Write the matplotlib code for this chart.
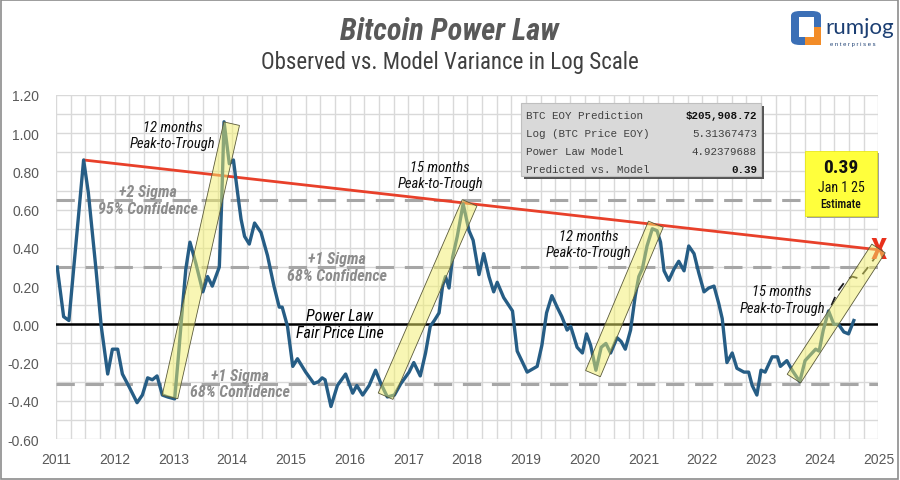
import matplotlib
matplotlib.use("Agg")
import matplotlib.pyplot as plt
from matplotlib.patches import Polygon, Rectangle, FancyBboxPatch
from matplotlib.ticker import MultipleLocator, FormatStrFormatter
import numpy as np

# observed vs. model variance (log scale)
obs_year = [2011.02, 2011.13, 2011.22, 2011.47, 2011.55, 2011.68, 2011.77, 2011.88, 2011.96,
            2012.05, 2012.13, 2012.25, 2012.38, 2012.47, 2012.56, 2012.64, 2012.72, 2012.81, 2012.90,
            2013.02, 2013.08, 2013.15, 2013.21, 2013.28, 2013.38, 2013.50, 2013.58, 2013.66, 2013.78,
            2013.82, 2013.86, 2013.95, 2014.02, 2014.09, 2014.15, 2014.21, 2014.29, 2014.38, 2014.49,
            2014.60, 2014.71, 2014.80, 2014.85, 2014.94, 2015.03, 2015.11, 2015.25, 2015.39, 2015.47,
            2015.53, 2015.58, 2015.68, 2015.79, 2015.93, 2016.05, 2016.12, 2016.22, 2016.33, 2016.44,
            2016.53, 2016.64, 2016.76, 2016.87, 2017.01, 2017.09, 2017.20, 2017.29, 2017.37, 2017.44,
            2017.52, 2017.58, 2017.63, 2017.69, 2017.75, 2017.83, 2017.93, 2018.03, 2018.10, 2018.20,
            2018.28, 2018.37, 2018.45, 2018.51, 2018.62, 2018.77, 2018.85, 2019.02, 2019.19, 2019.27,
            2019.35, 2019.44, 2019.53, 2019.61, 2019.70, 2019.76, 2019.87, 2019.96, 2020.03, 2020.10,
            2020.19, 2020.28, 2020.36, 2020.44, 2020.55, 2020.62, 2020.69, 2020.78, 2020.86, 2020.92,
            2020.98, 2021.06, 2021.15, 2021.23, 2021.29, 2021.35, 2021.43, 2021.52, 2021.60, 2021.69,
            2021.77, 2021.86, 2021.94, 2022.03, 2022.11, 2022.20, 2022.28, 2022.34, 2022.42, 2022.51,
            2022.59, 2022.71, 2022.79, 2022.85, 2022.93, 2023.00, 2023.07, 2023.19, 2023.28, 2023.33,
            2023.44, 2023.53, 2023.66, 2023.75, 2023.84, 2023.93, 2023.99, 2024.06, 2024.15, 2024.24,
            2024.32, 2024.41, 2024.49, 2024.58]
obs_val = [0.30, 0.04, 0.02, 0.86, 0.69, 0.29, -0.01, -0.26, -0.13,
           -0.13, -0.26, -0.33, -0.41, -0.37, -0.28, -0.29, -0.27, -0.37, -0.38,
           -0.39, -0.18, 0.08, 0.29, 0.43, 0.32, 0.17, 0.25, 0.20, 0.30,
           0.64, 1.06, 0.84, 0.86, 0.69, 0.55, 0.46, 0.42, 0.53, 0.48,
           0.36, 0.20, 0.09, 0.09, -0.01, -0.22, -0.18, -0.25, -0.31, -0.30,
           -0.28, -0.29, -0.43, -0.32, -0.26, -0.36, -0.32, -0.37, -0.32, -0.24,
           -0.31, -0.38, -0.37, -0.31, -0.25, -0.20, -0.27, -0.15, -0.01, 0.02,
           0.06, 0.20, 0.25, 0.19, 0.35, 0.46, 0.63, 0.49, 0.44, 0.26,
           0.37, 0.25, 0.17, 0.22, 0.14, 0.07, -0.14, -0.25, -0.22, -0.11,
           0.06, 0.15, 0.09, 0.04, -0.03, -0.01, -0.12, -0.15, -0.05, -0.11,
           -0.24, -0.12, -0.10, -0.15, -0.07, -0.09, -0.13, -0.03, 0.15, 0.25,
           0.29, 0.41, 0.50, 0.49, 0.43, 0.28, 0.23, 0.29, 0.33, 0.28,
           0.41, 0.37, 0.27, 0.17, 0.19, 0.20, 0.11, 0.03, -0.20, -0.15,
           -0.23, -0.25, -0.25, -0.32, -0.37, -0.24, -0.25, -0.17, -0.17, -0.22,
           -0.19, -0.24, -0.30, -0.19, -0.16, -0.13, -0.14, -0.03, 0.07, 0.00,
           0.00, -0.04, -0.05, 0.02]

# projected path to the year-end estimate
proj_year = [2024.20, 2024.30, 2024.42, 2024.55, 2024.67, 2024.80, 2024.92, 2025.00]
proj_val = [0.10, 0.17, 0.22, 0.25, 0.24, 0.29, 0.34, 0.39]

# falling peak line, 2011 top to the Jan 1 25 estimate
peak_year = [2011.47, 2025.00]
peak_val = [0.86, 0.39]

sigma_val = [0.65, 0.30, -0.31]
sigma_top = ['+2 Sigma', '+1 Sigma', '+1 Sigma']
sigma_bot = ['95% Confidence', '68% Confidence', '68% Confidence']
sigma_lbl_x = [2012.57, 2015.78, 2014.13]

# peak-to-trough bands (trough end -> peak end)
band_x0 = [2012.94, 2016.61, 2020.14, 2023.56]
band_y0 = [-0.38, -0.376, -0.258, -0.284]
band_x1 = [2013.99, 2018.04, 2021.21, 2025.00]
band_y1 = [1.05, 0.636, 0.524, 0.397]
band_months = ['12 months', '15 months', '12 months', '15 months']
band_lbl_x = [2012.99, 2017.54, 2020.07, 2023.36]
band_lbl_y = [0.99, 0.78, 0.42, 0.13]

tbl_names = ['BTC EOY Prediction', 'Log (BTC Price EOY)', 'Power Law Model', 'Predicted vs. Model']
tbl_values = ['$205,908.72', '5.31367473', '4.92379688', '0.39']
tbl_bold = [True, False, False, True]

W, H = 900, 481
narrow = ['Roboto Condensed', 'Liberation Sans Narrow', 'Roboto', 'DejaVu Sans']
plt.rcParams['font.family'] = ['Liberation Sans', 'DejaVu Sans']

fig = plt.figure(figsize=(9, 4.81), dpi=100)
ax = fig.add_axes([56 / W, 1 - 440 / H, (878.5 - 56) / W, (440 - 96) / H])


def fx(px):
    return px / W


def fy(py):
    return 1 - py / H


ax.set_xlim(2011, 2025)
ax.set_ylim(-0.6, 1.2)
ax.xaxis.set_major_locator(MultipleLocator(1))
ax.xaxis.set_minor_locator(MultipleLocator(0.25))
ax.yaxis.set_major_locator(MultipleLocator(0.2))
ax.yaxis.set_minor_locator(MultipleLocator(0.1))
ax.yaxis.set_major_formatter(FormatStrFormatter('%.2f'))
ax.grid(True, which='both', color='#d9d9d9', lw=1.0, zorder=0)
ax.set_axisbelow(True)
for s in ax.spines.values():
    s.set_visible(False)
ax.tick_params(which='both', length=0, labelsize=10, labelcolor='#595959')
ax.tick_params(axis='x', pad=9)
ax.tick_params(axis='y', pad=12)

for v in sigma_val:
    ax.axhline(v, color='#a6a6a6', lw=2.2, dashes=(6, 3.5), zorder=2)
ax.axhline(0, color='black', lw=1.8, zorder=2)

ax.plot(peak_year, peak_val, color='#e8402a', lw=2.0, zorder=3, solid_capstyle='butt')
ax.plot(obs_year, obs_val, color='#265d85', lw=2.4, zorder=4)
ax.plot(proj_year, proj_val, color='#1a1a1a', lw=1.3, dashes=(5, 4), zorder=4)
ax.text(peak_year[-1], peak_val[-1], 'X', family=narrow, color='#e8301c', fontsize=21,
        fontweight='bold', ha='center', va='center', zorder=4, clip_on=False)

# yellow bands, rotated rectangles around trough->peak
to_px = ax.transData
to_data = ax.transData.inverted()
for x0, y0, x1, y1 in zip(band_x0, band_y0, band_x1, band_y1):
    p0 = to_px.transform((x0, y0))
    p1 = to_px.transform((x1, y1))
    d = (p1 - p0) / np.hypot(*(p1 - p0))
    n = np.array([-d[1], d[0]]) * 8.0
    corners = to_data.transform([p0 + n, p1 + n, p1 - n, p0 - n])
    ax.add_patch(Polygon(corners, closed=True, facecolor='#f2ef6a', alpha=0.5,
                         edgecolor='none', zorder=5, clip_on=False))
    ax.add_patch(Polygon(corners, closed=True, facecolor='none', edgecolor='#5a5a3a',
                         lw=0.6, zorder=5, clip_on=False))

for lab, x, y in zip(band_months, band_lbl_x, band_lbl_y):
    ax.text(x, y, lab + '\nPeak-to-Trough', family=narrow, style='italic', fontsize=10.5,
            ha='center', va='center', color='#111111', linespacing=1.2, zorder=6)

for v, t, b, x in zip(sigma_val, sigma_top, sigma_bot, sigma_lbl_x):
    ax.text(x, v, t + '\n' + b, family=narrow, style='italic', fontweight='bold',
            fontsize=11.5, ha='center', va='center', color='#8c8c8c', linespacing=1.15, zorder=6)

ax.text(2015.83, 0.0, 'Power Law\nFair Price Line', family=narrow, style='italic',
        fontsize=11.5, ha='center', va='center', color='black',
        linespacing=1.15, zorder=6)

# titles
fig.text(0.5, fy(31), 'Bitcoin Power Law', family=narrow, style='italic', fontweight='bold',
         fontsize=22, color='#595959', ha='center', va='center')
fig.text(0.5, fy(62), 'Observed vs. Model Variance in Log Scale', family=narrow,
         fontsize=16.5, color='#404040', ha='center', va='center')

# info table
fig.patches.append(Rectangle((fx(524), fy(180)), fx(240), 73 / H, facecolor='#555555',
                             transform=fig.transFigure, zorder=1))
fig.patches.append(Rectangle((fx(521), fy(177)), fx(240), 73 / H, facecolor='#d9d9d9',
                             edgecolor='#bfbfbf', lw=0.8, transform=fig.transFigure, zorder=2))
for i, (nm, val, b) in enumerate(zip(tbl_names, tbl_values, tbl_bold)):
    yy = fy(116 + 18 * i)
    fig.text(fx(526), yy, nm, family='Liberation Mono', fontsize=7.8, color='#404040',
             ha='left', va='center', zorder=3)
    fig.text(fx(757), yy, val, family='Liberation Mono', fontsize=7.8,
             fontweight='bold' if b else 'normal', color='#111111' if b else '#404040',
             ha='right', va='center', zorder=3)

# yellow estimate callout
fig.patches.append(Rectangle((fx(807), fy(219)), fx(72), 65 / H, facecolor='#a0a0a0',
                             transform=fig.transFigure, zorder=1))
fig.patches.append(Rectangle((fx(805), fy(217)), fx(72), 65 / H, facecolor='#ffff3c',
                             edgecolor='#e6e600', lw=0.5, transform=fig.transFigure, zorder=2))
fig.text(fx(841), fy(168), '0.39', family=narrow, fontsize=14, fontweight='bold',
         color='#111111', ha='center', va='center', zorder=3)
fig.text(fx(841), fy(188), 'Jan 1 25', family=narrow, fontsize=10, color='#111111',
         ha='center', va='center', zorder=3)
fig.text(fx(841), fy(204), 'Estimate', family=narrow, fontsize=8.5, fontweight='medium',
         color='#111111', ha='center', va='center', zorder=3)

# logo
fig.patches.append(FancyBboxPatch((fx(791), fy(46)), fx(30), 34 / H,
                                  boxstyle='round,pad=0,rounding_size=0.01', facecolor='#3b6fb6',
                                  edgecolor='none', transform=fig.transFigure))
fig.patches.append(Rectangle((fx(805), fy(46)), fx(16), 18 / H, facecolor='#f28c28',
                             transform=fig.transFigure))
fig.patches.append(Rectangle((fx(799), fy(38)), fx(15), 20 / H, facecolor='white',
                             transform=fig.transFigure))
fig.text(fx(825), fy(28), 'rumjog', family=['Lato', 'Roboto', 'DejaVu Sans'], fontsize=16,
         color='#1c3f73', ha='left', va='center')
fig.text(fx(830), fy(45), 'e n t e r p r i s e s', fontsize=4.2, color='#1c3f73',
         ha='left', va='center')

# outer frame
fig.patches.append(Rectangle((0.001, 0.002), 0.997, 0.996, facecolor='none', edgecolor='#8c8c8c',
                             lw=1.2, transform=fig.transFigure))

fig.savefig('out.png', dpi=100)
